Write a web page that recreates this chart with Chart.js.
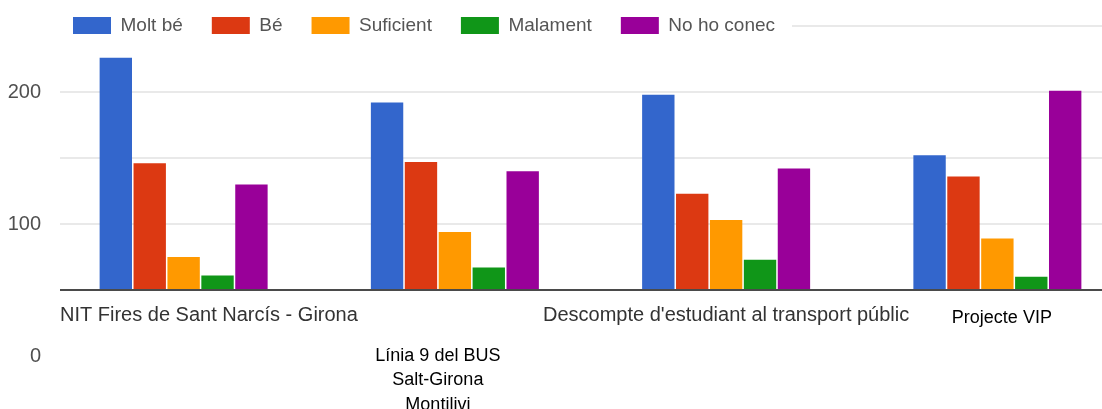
<!DOCTYPE html>
<html>
<head>
<meta charset="utf-8">
<style>
  html, body { margin: 0; padding: 0; background: #ffffff; }
  #wrap { width: 1102px; height: 409px; position: relative; }
  canvas { display: block; }
</style>
<script src="https://cdn.jsdelivr.net/npm/chart.js@4.4.1/dist/chart.umd.min.js"></script>
</head>
<body>
<div id="wrap"><canvas id="chart" width="1102" height="409"></canvas></div>
<script>
// ---------------- data ----------------
const categories = [
  'NIT Fires de Sant Narcís - Girona',
  ['Línia 9 del BUS', 'Salt-Girona', 'Montilivi'],
  "Descompte d'estudiant al transport públic",
  'Projecte VIP'
];
const seriesNames = ['Molt bé', 'Bé', 'Suficient', 'Malament', 'No ho conec'];
const moltBe    = [226, 192, 198, 152];
const be        = [146, 147, 123, 136];
const suficient = [75, 94, 103, 89];
const malament  = [61, 67, 73, 60];
const noHoConec = [130, 140, 142, 201];
const yTickStep = 50;      // gridline interval
const yLabelStep = 100;    // labelled ticks: 0, 100, 200
const yMin = 0;
const yMax = 250;
const axisFloor = 50;      // value at which the visible baseline sits

// ---------------- styles ----------------
const FONT = "'Liberation Sans', Arial, sans-serif";
const seriesColors = ['#3366cc', '#dc3912', '#ff9900', '#109618', '#990099'];
const gridLeft = 60;
const plotOverflowRight = 31;   // the plot continues past the right edge of the picture
const catLabelStyles = [
  { size: 20, color: '#333333', dx: 0,   dy: 31, lineGap: 24.5 },
  { size: 18, color: '#000000', dx: -17, dy: 70.5, lineGap: 24.5 },
  { size: 20, color: '#333333', dx: 0,   dy: 31, lineGap: 24.5 },
  { size: 18, color: '#000000', dx: 4.5, dy: 32.5, lineGap: 24.5 }
];

const seriesData = [moltBe, be, suficient, malament, noHoConec];

const refPlugin = {
  id: 'refPlugin',
  beforeLayout(chart) {
    const lg = chart.legend;
    if (lg && !lg._noSpace) {
      const fit = lg.fit;
      lg.fit = function () { fit.call(this); this.height = 0; };
      lg._noSpace = true;
    }
  },
  afterLayout(chart) {
    const xs = chart.scales.x;
    xs.right = chart.width + plotOverflowRight;
    xs.width = xs.right - xs.left;
    xs.configure();
    const lg = chart.legend;
    if (!lg) return;
    const pad = lg.options.labels.padding;
    lg.left = 73 - pad;
    lg.right = chart.width;
    lg.top = 16 - pad;
    lg.bottom = lg.top + pad * 2 + 30;
  },
  beforeDraw(chart) {
    const ctx = chart.ctx;
    const y = chart.scales.y;
    ctx.save();
    ctx.fillStyle = '#ffffff';
    ctx.fillRect(0, 0, chart.width, chart.height);
    ctx.strokeStyle = '#e2e2e2';
    ctx.lineWidth = 1.5;
    y.ticks.forEach(t => {
      if (t.value <= axisFloor) return;
      const py = y.getPixelForValue(t.value);
      ctx.beginPath();
      ctx.moveTo(gridLeft, py);
      ctx.lineTo(chart.width, py);
      ctx.stroke();
    });
    // white plate behind legend
    ctx.fillStyle = '#ffffff';
    ctx.fillRect(gridLeft, 10, 732, 32);
    ctx.restore();
  },
  beforeDatasetsDraw(chart) {
    const ctx = chart.ctx;
    const yBase = chart.scales.y.getPixelForValue(axisFloor);
    ctx.save();
    ctx.beginPath();
    ctx.rect(0, 0, chart.width, yBase);
    ctx.clip();
  },
  afterDatasetsDraw(chart) {
    const ctx = chart.ctx;
    ctx.restore();
    const yBase = chart.scales.y.getPixelForValue(axisFloor);
    ctx.save();
    ctx.strokeStyle = '#4a4a4a';
    ctx.lineWidth = 2;
    ctx.beginPath();
    ctx.moveTo(gridLeft, yBase);
    ctx.lineTo(chart.width, yBase);
    ctx.stroke();
    ctx.restore();
  },
  afterDraw(chart) {
    const ctx = chart.ctx;
    const xs = chart.scales.x;
    const yBase = chart.scales.y.getPixelForValue(axisFloor);
    ctx.save();
    ctx.textBaseline = 'alphabetic';
    ctx.textAlign = 'center';
    chart.data.labels.forEach((lab, i) => {
      const st = catLabelStyles[i];
      const lines = Array.isArray(lab) ? lab : [lab];
      ctx.font = st.size + 'px ' + FONT;
      ctx.fillStyle = st.color;
      let cx = xs.getPixelForValue(i) + st.dx;
      const maxW = Math.max(...lines.map(l => ctx.measureText(l).width));
      if (cx - maxW / 2 < gridLeft) cx = gridLeft + maxW / 2;
      lines.forEach((l, k) => {
        ctx.fillText(l, cx, yBase + st.dy + k * st.lineGap);
      });
    });
    ctx.restore();
  }
};

new Chart(document.getElementById('chart'), {
  type: 'bar',
  data: {
    labels: categories,
    datasets: seriesNames.map((name, i) => ({
      label: name,
      data: seriesData[i],
      backgroundColor: seriesColors[i],
      borderWidth: 0,
      categoryPercentage: 0.625,
      barPercentage: 0.955
    }))
  },
  options: {
    responsive: false,
    animation: false,
    devicePixelRatio: 1,
    layout: { padding: { left: 0, top: 26, right: 0, bottom: 53 } },
    plugins: {
      legend: {
        position: 'top',
        align: 'start',
        labels: {
          boxWidth: 38,
          boxHeight: 17,
          padding: 29,
          color: '#555555',
          font: { family: FONT, size: 19 }
        }
      },
      tooltip: { enabled: false },
      title: { display: false }
    },
    scales: {
      x: {
        display: false,
        offset: true
      },
      y: {
        min: yMin,
        max: yMax,
        afterFit(scale) { scale.width = 48; },
        grid: { display: false, drawTicks: false },
        border: { display: false },
        ticks: {
          stepSize: yTickStep,
          padding: 7,
          color: '#505050',
          font: { family: FONT, size: 20 },
          callback: (v) => (v % yLabelStep === 0 ? String(v) : '')
        }
      }
    }
  },
  plugins: [refPlugin]
});
</script>
</body>
</html>
